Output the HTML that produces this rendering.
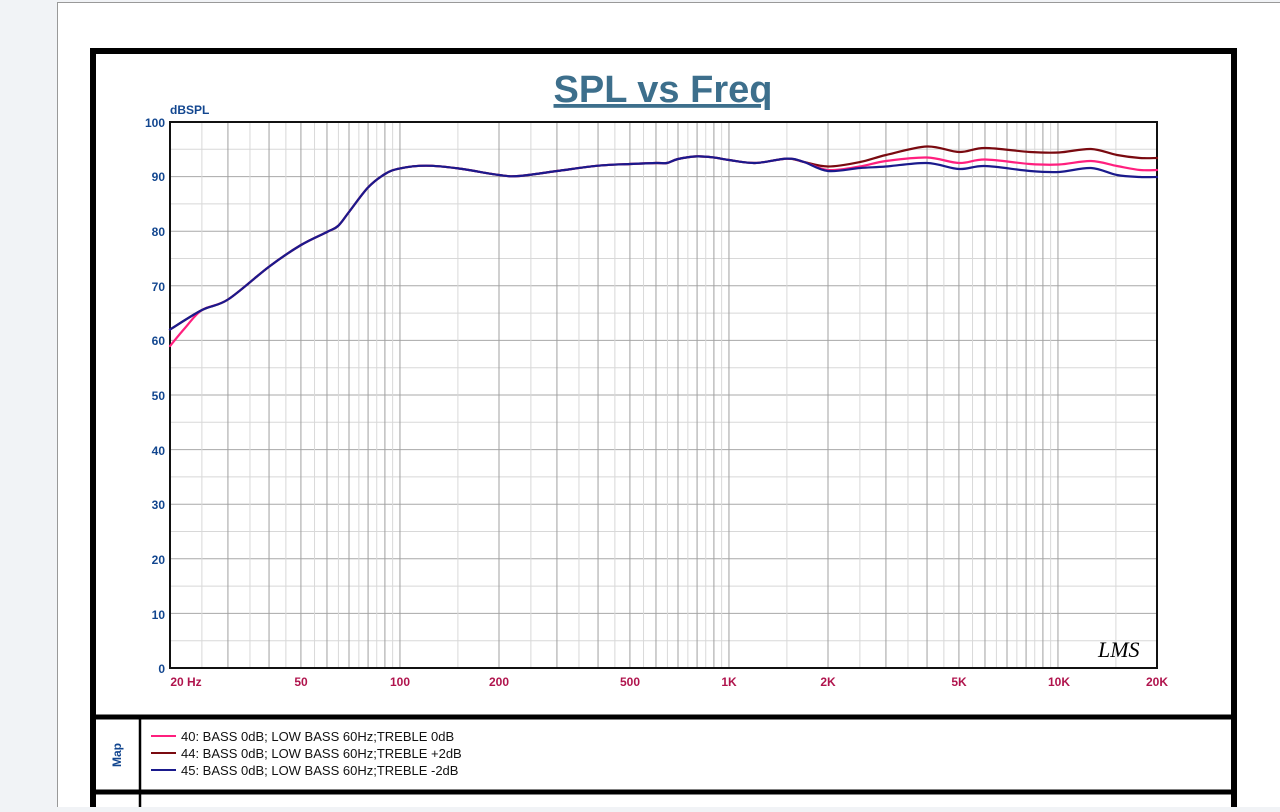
<!DOCTYPE html>
<html><head><style>
body{margin:0;width:1280px;height:807px;background:#f1f3f6;overflow:hidden;font-family:"Liberation Sans",sans-serif}
</style></head><body>
<svg width="1280" height="807" xmlns="http://www.w3.org/2000/svg" font-family="Liberation Sans, sans-serif">
<rect x="57.5" y="2.5" width="1240" height="820" fill="#fff" stroke="#999" stroke-width="1"/>
<g id="grid" stroke-width="1">
</g>
<rect x="170" y="122" width="987" height="546" fill="none" stroke="#111" stroke-width="2"/>
<text x="663" y="102" text-anchor="middle" font-size="38" font-weight="bold" fill="#3d6f8c" text-decoration="underline">SPL vs Freq</text>
<text x="170" y="114" font-size="12" font-weight="bold" fill="#12468f">dBSPL</text>
<g font-size="12" font-weight="bold" fill="#12468f" text-anchor="end">
<text x="165" y="127">100</text><text x="165" y="181">90</text><text x="165" y="236">80</text><text x="165" y="291">70</text><text x="165" y="345">60</text><text x="165" y="400">50</text><text x="165" y="455">40</text><text x="165" y="509">30</text><text x="165" y="564">20</text><text x="165" y="619">10</text><text x="165" y="673">0</text>
</g>
<g font-size="12" font-weight="bold" fill="#b0144d" text-anchor="middle">
<text x="186" y="686">20  Hz</text><text x="301" y="686">50</text><text x="400" y="686">100</text><text x="499" y="686">200</text><text x="630" y="686">500</text><text x="729" y="686">1K</text><text x="828" y="686">2K</text><text x="959" y="686">5K</text><text x="1059" y="686">10K</text><text x="1157" y="686">20K</text>
</g>
<text x="1098" y="657" font-size="22" font-style="italic" fill="#000" font-family="Liberation Serif, serif">LMS</text>
<g id="curves" fill="none" stroke-width="2.2" stroke-linejoin="round" stroke-linecap="round"></g>
<g stroke="#000" fill="none">
<rect x="93" y="51" width="1141" height="780" stroke-width="6"/>
<line x1="93" y1="717" x2="1234" y2="717" stroke-width="5"/>
<line x1="93" y1="792" x2="1234" y2="792" stroke-width="5"/>
<line x1="140" y1="717" x2="140" y2="807" stroke-width="2.5"/>
</g>
<text transform="translate(121,755) rotate(-90)" text-anchor="middle" font-size="12" font-weight="bold" fill="#12468f">Map</text>
<g stroke-width="2"><line x1="151" y1="736" x2="176" y2="736" stroke="#ff1f7e"/><line x1="151" y1="753" x2="176" y2="753" stroke="#7a0a10"/><line x1="151" y1="770" x2="176" y2="770" stroke="#1a1a8c"/></g>
<g font-size="13" fill="#111">
<text x="181" y="741">40: BASS 0dB; LOW BASS 60Hz;TREBLE 0dB</text>
<text x="181" y="758">44: BASS 0dB; LOW BASS 60Hz;TREBLE +2dB</text>
<text x="181" y="775">45: BASS 0dB; LOW BASS 60Hz;TREBLE -2dB</text>
</g>
</svg>
<script>
const ns='http://www.w3.org/2000/svg';
const g=document.getElementById('grid');
function X(f){return 170+329*Math.log10(f/20);}
function ln(x1,y1,x2,y2,c){const l=document.createElementNS(ns,'line');l.setAttribute('x1',x1);l.setAttribute('y1',y1);l.setAttribute('x2',x2);l.setAttribute('y2',y2);l.setAttribute('stroke',c);g.appendChild(l);}
for(let d=0;d<=100;d+=5){const y=668-5.46*d;ln(170,y,1157,y,d%10?'#d8d8d8':'#a8a8a8');}
for(const dec of [10,100,1000,10000]){for(let m=1;m<10;m+=0.5){const f=dec*m;if(f<20||f>20000)continue;const x=X(f);ln(x,122,x,668,Number.isInteger(m)?'#a0a0a0':'#d8d8d8');}}
const common="202,310 228,299.5 269,266.7 301,245 327,232 338,226 349,212 368,187.5 385,174 400,168.4 426,165.7 458,168.4 499,175 519,176 557,171 598,165.7 630,164 656,163 667,163 678,159 697,156.4 714,157.5 729,160 755,163 787,158.6 804,162";
const series=[
["#7a0a10","170,329.5 "+common+" 828,166.5 860,162 886,155 927,146.5 959,152 985,148 1030,152 1059,152.5 1091,149 1117,155 1140,158 1157,158"],
["#ff1f7e","170,346 185,328 "+common+" 828,170 860,166.5 886,161 927,157.5 959,163 985,159.5 1030,164 1059,164.5 1091,161 1117,166 1140,170 1157,170"],
["#1a1a8c","170,329.5 "+common+" 828,171 860,168 886,166.5 927,163 959,169 985,166 1030,171 1059,172 1091,168 1117,175 1140,177 1157,177"]];
const cg=document.getElementById('curves');
for(const [c,s] of series){
 const p=s.trim().split(/\s+/).map(t=>t.split(',').map(Number));
 let d='M'+p[0][0]+','+p[0][1];
 for(let i=0;i<p.length-1;i++){
  const p0=p[Math.max(0,i-1)],p1=p[i],p2=p[i+1],p3=p[Math.min(p.length-1,i+2)];
  const t=6;
  d+=` C${p1[0]+(p2[0]-p0[0])/t},${p1[1]+(p2[1]-p0[1])/t} ${p2[0]-(p3[0]-p1[0])/t},${p2[1]-(p3[1]-p1[1])/t} ${p2[0]},${p2[1]}`;
 }
 const path=document.createElementNS(ns,'path');path.setAttribute('d',d);path.setAttribute('stroke',c);cg.appendChild(path);
}
</script>
</body></html>
